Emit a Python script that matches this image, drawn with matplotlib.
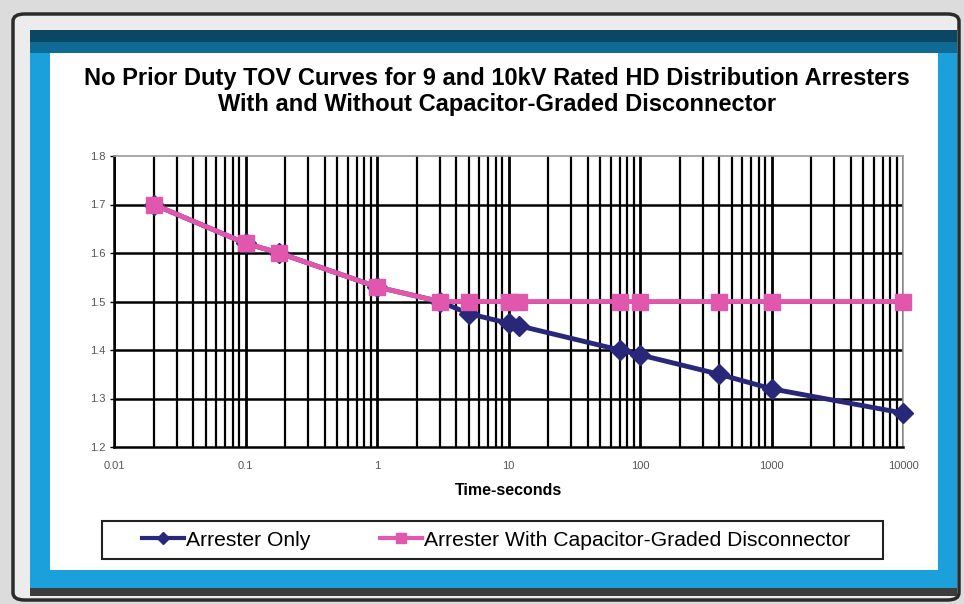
import matplotlib.pyplot as plt
from matplotlib.patches import Rectangle, FancyBboxPatch
from matplotlib.lines import Line2D
from matplotlib.ticker import FixedLocator, LogLocator, NullFormatter

# data
time_s = [0.02, 0.1, 0.18, 1, 3, 5, 10, 12, 70, 100, 400, 1000, 10000]
arrester_only = [1.70, 1.62, 1.60, 1.53, 1.50, 1.475, 1.455, 1.45, 1.40, 1.39, 1.35, 1.32, 1.27]
arrester_cgd = [1.70, 1.62, 1.60, 1.53, 1.50, 1.50, 1.50, 1.50, 1.50, 1.50, 1.50, 1.50, 1.50]

x_ticks = [0.01, 0.1, 1, 10, 100, 1000, 10000]
x_labels = ["0.01", "0.1", "1", "10", "100", "1000", "10000"]
y_ticks = [1.2, 1.3, 1.4, 1.5, 1.6, 1.7, 1.8]

series_names = ["Arrester Only", "Arrester With Capacitor-Graded Disconnector"]
navy = "#28277a"
pink = "#e157ad"

W, H = 964, 604
plt.rcParams['font.family'] = ['Liberation Sans', 'DejaVu Sans']

fig = plt.figure(figsize=(W / 100, H / 100), dpi=100)
fig.patch.set_facecolor("#dcdcdc")


def box(x0, y0, x1, y1, **kw):
    # pixel box (top-left origin) -> figure rectangle
    return Rectangle((x0 / W, 1 - y1 / H), (x1 - x0) / W, (y1 - y0) / H,
                     transform=fig.transFigure, zorder=-1, **kw)


# picture frame around the chart
frame = FancyBboxPatch((13 / W, 1 - 600 / H), 946 / W, 586 / H,
                       boxstyle="round,pad=0,rounding_size=0.012",
                       transform=fig.transFigure, facecolor="#ececec",
                       edgecolor="#2b2b2b", lw=2.5, zorder=-2)
fig.patches.append(frame)
fig.patches.append(box(30, 30, 957, 596, facecolor="#3c3c3c", lw=0))
fig.patches.append(box(30, 30, 957, 588, facecolor="#1ba0db", lw=0))
fig.patches.append(box(30, 30, 957, 42, facecolor="#0b4662", lw=0))
fig.patches.append(box(30, 42, 957, 53, facecolor="#0f6a95", lw=0))
fig.patches.append(box(50, 53, 938, 570, facecolor="white", lw=0))
# legend border
fig.patches.append(box(102, 521, 883, 559, facecolor="none",
                       edgecolor="#222222", lw=1.5))

fig.text(497 / W, 1 - 78 / H,
         "No Prior Duty TOV Curves for 9 and 10kV Rated HD Distribution Arresters",
         ha="center", va="center", fontsize=17, fontweight="bold")
fig.text(497 / W, 1 - 104 / H,
         "With and Without Capacitor-Graded Disconnector",
         ha="center", va="center", fontsize=17, fontweight="bold")

ax = fig.add_axes([114 / W, 1 - 447 / H, (903 - 114) / W, (447 - 156) / H])
ax.set_xscale("log")
ax.set_xlim(0.01, 10000)
ax.set_ylim(1.2, 1.8)

ax.xaxis.set_major_locator(FixedLocator(x_ticks))
ax.set_xticklabels(x_labels)
ax.xaxis.set_minor_locator(LogLocator(base=10, subs=range(2, 10), numticks=20))
ax.xaxis.set_minor_formatter(NullFormatter())
ax.set_yticks(y_ticks)
ax.set_yticklabels([f"{v:.1f}" for v in y_ticks])

ax.grid(which="major", axis="x", color="black", lw=2.0)
ax.grid(which="minor", axis="x", color="black", lw=1.6)
for v in y_ticks[1:-1]:
    ax.axhline(v, color="black", lw=1.8, zorder=1)
ax.set_axisbelow(True)

for side in ["top", "right"]:
    ax.spines[side].set_color("#9a9a9a")
    ax.spines[side].set_linewidth(1.2)
for side in ["left", "bottom"]:
    ax.spines[side].set_color("black")
    ax.spines[side].set_linewidth(1.8)

ax.tick_params(axis="both", which="both", labelsize=8, labelcolor="#555555",
               color="black")
ax.tick_params(axis="x", which="both", length=0, pad=10)
ax.tick_params(axis="y", length=3, width=1, pad=3)

ax.plot(time_s, arrester_only, color=navy, lw=3.5, marker="D", markersize=10,
        clip_on=False, zorder=3)
ax.plot(time_s, arrester_cgd, color=pink, lw=3.5, marker="s", markersize=12,
        clip_on=False, zorder=4)

ax.set_xlabel("Time-seconds", fontsize=11.5, fontweight="bold", labelpad=9)

handles = [Line2D([], [], color=navy, lw=3, marker="D", markersize=6),
           Line2D([], [], color=pink, lw=3, marker="s", markersize=7)]
leg = fig.legend(handles, series_names, loc="center",
                 bbox_to_anchor=(496 / W, 1 - 540 / H), ncol=2,
                 fontsize=15.2, frameon=False, handlelength=2.0,
                 handletextpad=0.1, columnspacing=3.3, borderpad=0,
                 borderaxespad=0)

fig.savefig("out.png", dpi=100, facecolor=fig.get_facecolor())
